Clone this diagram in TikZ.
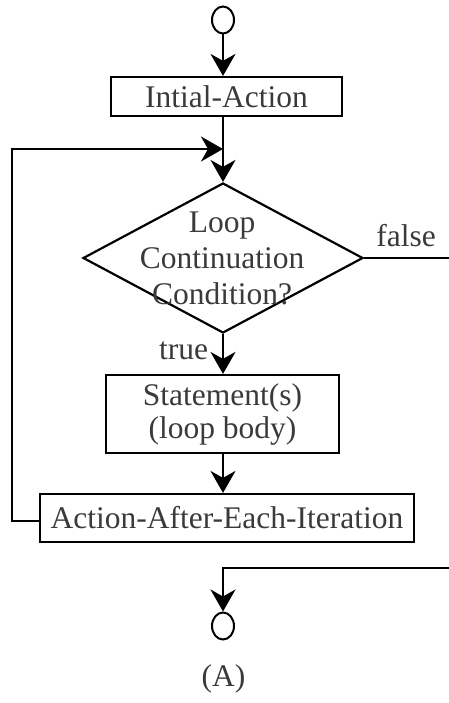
\documentclass[tikz,border=0pt]{standalone}
\usepackage{fontspec}
\setmainfont{Liberation Serif}
\usetikzlibrary{arrows.meta,shapes.geometric}
\definecolor{txt}{RGB}{58,58,58}
\begin{document}
\begin{tikzpicture}[x=1pt,y=-1pt,
  line width=2.2pt,
  flow/.style={-{Stealth[length=22pt,width=25pt,inset=7pt]}},
  proc/.style={draw,rectangle,inner sep=0pt,text=txt,font=\fontsize{31.5}{33}\selectfont,align=center},
  term/.style={draw,ellipse,line width=2pt,minimum width=22pt,minimum height=27pt,inner sep=0pt},
  lbl/.style={text=txt,font=\fontsize{31.5}{36}\selectfont,align=center,inner sep=0pt}]
\useasboundingbox (0,0) rectangle (449,703);

% start and end terminals
\node[term] (start) at (223,20) {};
\node[term] (stop) at (223,626) {};

% process boxes
\node[proc,minimum width=231pt,minimum height=39pt] (init) at (226.5,96.5) {Intial-Action};
\node[proc,minimum width=233pt,minimum height=78pt] (body) at (222.5,414) {Statement(s)\\(loop body)};
\node[proc,minimum width=374pt,minimum height=48pt] (after) at (227,518) {Action-After-Each-Iteration};

% decision
\node[draw,diamond,minimum width=280pt,minimum height=150pt,inner sep=0pt,aspect=1.87] (cond) at (223,258) {};
\node[lbl] (condtext) at (222,258) {Loop\\Continuation\\Condition?};

% branch labels
\node[lbl] (falsel) at (406,236) {false};
\node[lbl] (truel) at (183.5,351) {true};
\node[lbl] (caption) at (223.5,679) {(A)};

% helper points
\coordinate (merge) at (223,149);
\coordinate (loopbl) at (12,521);
\coordinate (looptl) at (12,149);
\coordinate (falseend) at (449,258);
\coordinate (exitin) at (449,568);
\coordinate (exitturn) at (223,568);

% connectors
\draw[flow] (start.south) -- (start.south |- init.north);
\draw[flow] (init.south -| start.south) -- (cond.north);
\draw[flow] (after.west |- loopbl) -- (loopbl) -- (looptl) -- (merge);
\draw (cond.east) -- (falseend);
\draw[flow] (cond.south) -- (cond.south |- body.north);
\draw[flow] (body.south -| cond.south) -- (cond.south |- after.north);
\draw[flow] (exitin) -- (exitturn) -- (stop.north);
\end{tikzpicture}
\end{document}
